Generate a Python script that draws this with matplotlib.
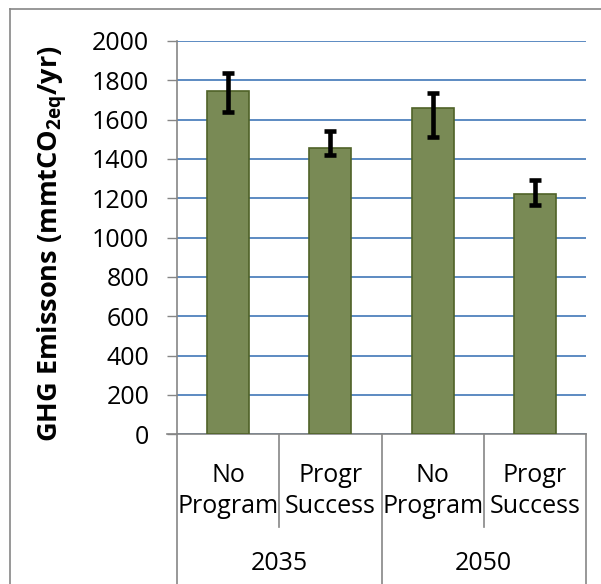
import matplotlib.pyplot as plt
from matplotlib.lines import Line2D

plt.rcParams['font.family'] = ['Open Sans', 'DejaVu Sans']
plt.rcParams['mathtext.fontset'] = 'custom'
plt.rcParams['mathtext.rm'] = 'Open Sans'
plt.rcParams['mathtext.bf'] = 'Open Sans:bold'

# Data
scenarios = ["No\nProgram", "Progr\nSuccess", "No\nProgram", "Progr\nSuccess"]
years = ["2035", "2050"]
emissions = [1745, 1455, 1660, 1222]
err_high = [1835, 1540, 1735, 1293]
err_low = [1640, 1420, 1513, 1166]

dpi = 100
fs = 18
fig = plt.figure(figsize=(6.01, 5.84), dpi=dpi)
W, H = 601, 584
ax = fig.add_axes([177 / W, 1 - 434.3 / H, (586 - 177) / W, (434.3 - 41) / H])

x = list(range(len(emissions)))
lower = [v - lo for v, lo in zip(emissions, err_low)]
upper = [hi - v for v, hi in zip(emissions, err_high)]
ax.bar(x, emissions, width=0.41, color="#798A55", edgecolor="#4F6228", linewidth=1.2, zorder=3)
ax.errorbar(x, emissions, yerr=[lower, upper], fmt="none", ecolor="black",
            elinewidth=3.3, capsize=4.6, capthick=3.3, zorder=4)

ax.set_xlim(-0.5, 3.5)
ax.set_ylim(0, 2000)
ax.set_yticks(range(0, 2001, 200))
ax.yaxis.grid(True, color="#4F81BD", linewidth=1.3, zorder=0)
ax.set_axisbelow(True)
ax.tick_params(axis="y", labelsize=fs, length=7, width=1, color="#868686", pad=13)
ax.tick_params(axis="x", bottom=False, labelbottom=False)
for s in ["top", "right"]:
    ax.spines[s].set_visible(False)
ax.spines["left"].set_color("#868686")
ax.spines["bottom"].set_color("#868686")
ax.spines["left"].set_linewidth(1.2)
ax.spines["bottom"].set_linewidth(1.2)

ax.set_ylabel(r"GHG Emissons (mmtCO$_\mathbf{2eq}$/yr)", fontsize=19.5, fontweight="bold")
ax.yaxis.set_label_coords((70 - 177) / 409, 0.485)

# multi-level category axis
trans = ax.get_xaxis_transform()
ax_h = (434.3 - 41)
def yfrac(py):
    return -(py - 434.3) / ax_h

for i, lab in enumerate(scenarios):
    ax.text(i, yfrac(491), lab, transform=trans, ha="center", va="center",
            fontsize=fs, linespacing=1.3)
for j, yr in enumerate(years):
    ax.text(2 * j + 0.5, yfrac(563), yr, transform=trans, ha="center", va="center", fontsize=fs)

for xs in [-0.5, 1.5, 3.5]:
    ax.add_line(Line2D([xs, xs], [0, yfrac(584)], transform=trans, color="#868686",
                       linewidth=1.2, clip_on=False))
for xs in [0.5, 2.5]:
    ax.add_line(Line2D([xs, xs], [0, yfrac(527)], transform=trans, color="#868686",
                       linewidth=1.2, clip_on=False))
ax.add_line(Line2D([-0.5 - 10 / 102.25, -0.5], [0, 0], transform=trans, color="#868686",
                   linewidth=1.2, clip_on=False))

# outer chart border
fig.add_artist(Line2D([10 / W, 10 / W], [1 - 9 / H, 0], color="#868686", linewidth=1.2))
fig.add_artist(Line2D([10 / W, 1], [1 - 9 / H, 1 - 9 / H], color="#868686", linewidth=1.2))

fig.savefig("out.png", dpi=dpi)
